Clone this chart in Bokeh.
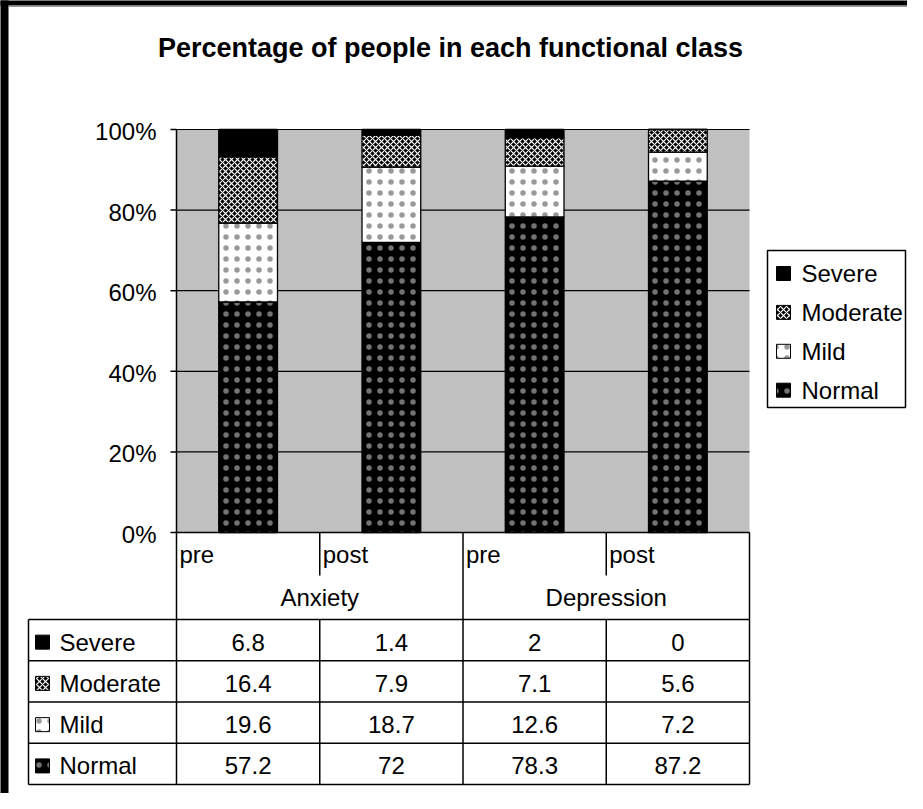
from bokeh.plotting import figure
from bokeh.models import Range1d, Grid
from bokeh.core.properties import value
from bokeh.embed import file_html
from bokeh.resources import INLINE

# ---------------- data ----------------
categories = ["pre", "post", "pre", "post"]
groups = ["Anxiety", "Depression"]
classes = ["Normal", "Mild", "Moderate", "Severe"]
normal = [57.2, 72, 78.3, 87.2]
mild = [19.6, 18.7, 12.6, 7.2]
moderate = [16.4, 7.9, 7.1, 5.6]
severe = [6.8, 1.4, 2, 0]
tick_values = [0, 20, 40, 60, 80, 100]
tick_labels = ["0%", "20%", "40%", "60%", "80%", "100%"]
title_text = "Percentage of people in each functional class"

series = {"Normal": normal, "Mild": mild, "Moderate": moderate, "Severe": severe}

# ---------------- layout helpers (pixel -> data) ----------------
W, H = 907, 793
X0, XU = 184.0, 143.25      # pixel of x=0, pixels per category
Y0, YU = 540.0, 4.03        # pixel of 0 %, pixels per percent


def dx(px):
    return (px - X0) / XU


def dy(py):
    return (Y0 - py) / YU


FONT = value("Liberation Sans")
FS = value("24px")

p = figure(width=W, height=H,
           x_range=Range1d(dx(8), dx(8 + W)), y_range=Range1d(dy(8 + H), dy(8)),
           output_backend="svg", toolbar_location=None, min_border=0,
           x_axis_location=None, y_axis_location=None,
           outline_line_color=None, background_fill_color="white",
           border_fill_color="white")
for r in list(p.center):
    if isinstance(r, Grid):
        r.visible = False

styles = {
    "Normal": dict(fill_color="black", hatch_pattern="dot", hatch_color="white",
                   hatch_scale=11, hatch_weight=1, hatch_alpha=0.45),
    "Mild": dict(fill_color="white", hatch_pattern="dot", hatch_color="black",
                 hatch_scale=11, hatch_weight=1, hatch_alpha=0.4),
    "Moderate": dict(fill_color="black", hatch_pattern="diagonal_cross",
                     hatch_color="white", hatch_scale=6, hatch_weight=1.2),
    "Severe": dict(fill_color="black"),
}

n = len(categories)
xs = [i + 0.5 for i in range(n)]

# frame (grey plot area) and border decoration
p.quad(left=[0], right=[n], bottom=[0], top=[100], fill_color="#C0C0C0", line_color=None)
p.quad(left=[dx(0)], right=[dx(16)], top=[dy(0)], bottom=[dy(820)], fill_color="black", line_color=None)
p.quad(left=[dx(0)], right=[dx(940)], top=[dy(0)], bottom=[dy(13)], fill_color="black", line_color=None)
p.segment(x0=[dx(16)], x1=[dx(940)], y0=[dy(14)], y1=[dy(14)], line_color="#999999", line_width=1)

# grid lines
p.segment(x0=[0] * len(tick_values), x1=[n] * len(tick_values), y0=tick_values, y1=tick_values,
          line_color="black", line_width=1.2)

# stacked bars
bottom = [0.0] * n
for cls in classes:
    vals = series[cls]
    top = [b + v for b, v in zip(bottom, vals)]
    p.vbar(x=xs, width=0.41, bottom=bottom, top=top, line_color="black", line_width=1.3,
           **styles[cls])
    bottom = top

# y axis line, ticks and labels
p.segment(x0=[0], x1=[0], y0=[0], y1=[100], line_color="black", line_width=1.5)
p.segment(x0=[dx(178)] * len(tick_values), x1=[0] * len(tick_values), y0=tick_values, y1=tick_values,
          line_color="black", line_width=1.5)
p.text(x=[dx(164)] * len(tick_values), y=tick_values, text=tick_labels, text_font=FONT,
       text_font_size=FS, text_align="right", text_baseline="middle", y_offset=2,
       text_color="black")

# title
p.text(x=[dx(458)], y=[dy(55)], text=[title_text], text_font=FONT, text_font_size=value("27px"),
       text_font_style="bold", text_align="center", text_baseline="middle", text_color="black")

# ---------------- data table under the chart ----------------
LW = 1.5
tbl_top = dy(627)
row_h = 41.25
rows = list(reversed(classes))  # Severe, Moderate, Mild, Normal
n_rows = len(rows)
tbl_bottom = dy(627 + row_h * n_rows)

# category header rows
p.segment(x0=[0], x1=[n], y0=[0], y1=[0], line_color="black", line_width=LW)
p.segment(x0=[i for i in range(1, n, 2)], x1=[i for i in range(1, n, 2)],
          y0=[0] * (n // 2), y1=[dy(583)] * (n // 2), line_color="black", line_width=LW)
p.segment(x0=[0, 2, n], x1=[0, 2, n], y0=[0, 0, 0], y1=[tbl_bottom] * 3,
          line_color="black", line_width=LW)
p.text(x=[i for i in range(n)], y=[dy(562)] * n, text=categories, text_font=FONT,
       text_font_size=FS, text_align="left", text_baseline="middle",
       x_offset=3, text_color="black")
p.text(x=[1 + 2 * g for g in range(len(groups))], y=[dy(605)] * len(groups), text=groups,
       text_font=FONT, text_font_size=FS, text_align="center",
       text_baseline="middle", text_color="black")

# body grid
hy = [dy(627 + row_h * k) for k in range(n_rows + 1)]
p.segment(x0=[dx(36)] * len(hy), x1=[n] * len(hy), y0=hy, y1=hy, line_color="black", line_width=LW)
p.segment(x0=[dx(36), 1, 3], x1=[dx(36), 1, 3], y0=[tbl_top] * 3, y1=[tbl_bottom] * 3,
          line_color="black", line_width=LW)

for k, cls in enumerate(rows):
    yc_px = 627 + row_h * (k + 0.5)
    vals = series[cls]
    p.text(x=xs, y=[dy(yc_px)] * n, text=[f"{v:g}" for v in vals], text_font=FONT,
           text_font_size=FS, text_align="center", text_baseline="middle",
           y_offset=2, text_color="black")
    # swatch + label
    p.quad(left=[dx(43)], right=[dx(57)], top=[dy(yc_px - 5)], bottom=[dy(yc_px + 9)],
           line_color="black", line_width=1, **styles[cls])
    p.text(x=[dx(67)], y=[dy(yc_px)], text=[cls], text_font=FONT, text_font_size=FS,
           text_align="left", text_baseline="middle", y_offset=2, text_color="black")

# ---------------- legend ----------------
p.quad(left=[dx(775)], right=[dx(913)], top=[dy(258)], bottom=[dy(415)], fill_color="white",
       line_color="black", line_width=1.5)
for k, cls in enumerate(rows):
    yc = 281 + 38.9 * k
    p.quad(left=[dx(784)], right=[dx(798)], top=[dy(yc - 7)], bottom=[dy(yc + 7)],
           line_color="black", line_width=1, **styles[cls])
    p.text(x=[dx(809)], y=[dy(yc)], text=[cls], text_font=FONT, text_font_size=FS,
           text_align="left", text_baseline="middle", text_color="black")

open("out.html", "w").write(file_html(p, INLINE))
